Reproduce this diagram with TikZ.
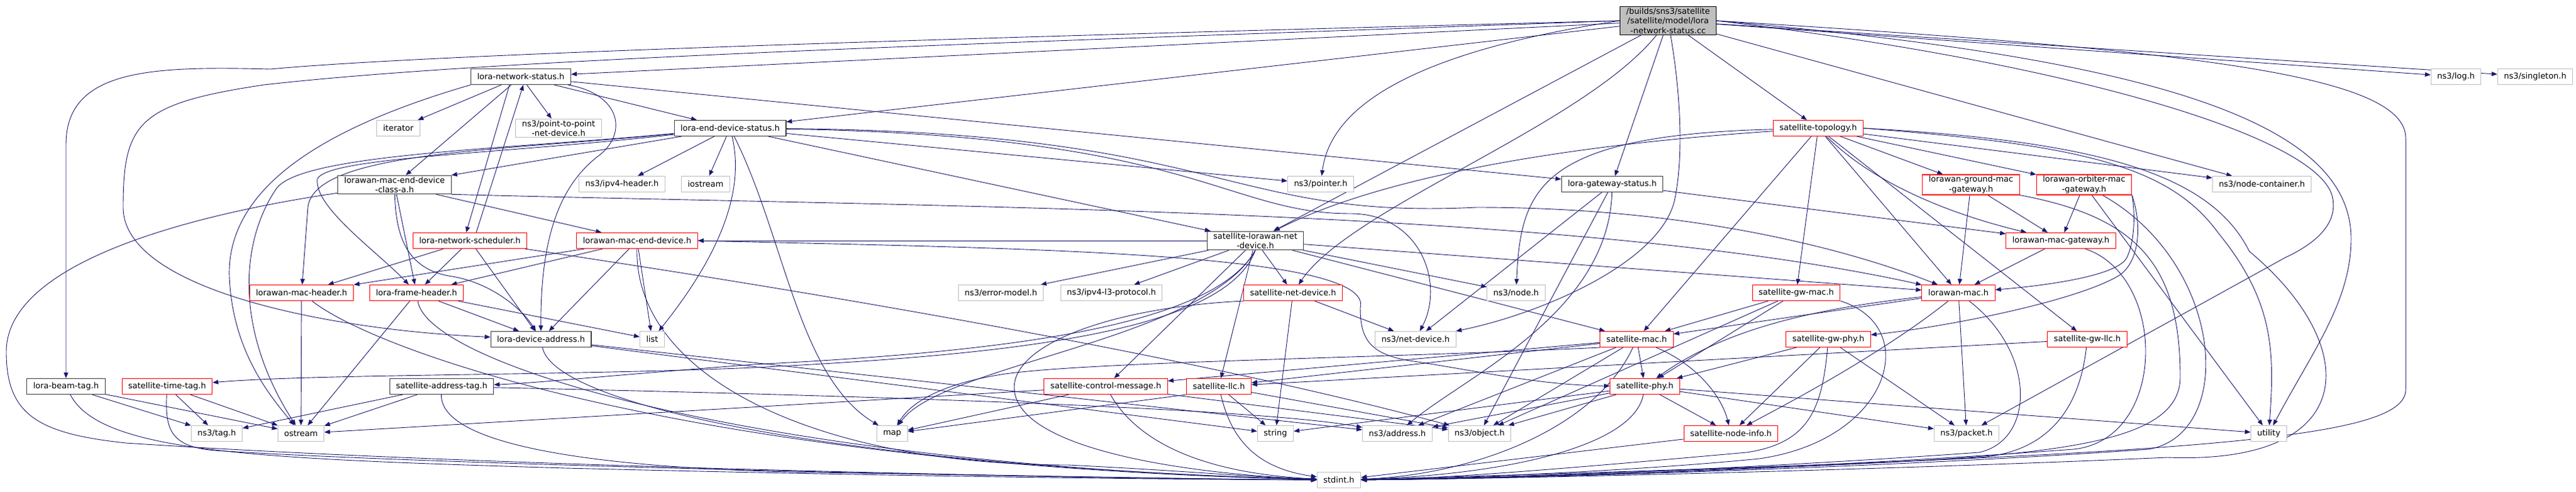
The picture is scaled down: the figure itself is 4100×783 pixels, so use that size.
\documentclass[tikz,border=0pt]{standalone}
\usepackage{fontspec}
\setmainfont{DejaVu Sans}
\usetikzlibrary{arrows.meta}
\definecolor{edgeblue}{RGB}{25,25,112}
\definecolor{boxgray}{RGB}{191,191,191}
\definecolor{boxred}{RGB}{255,0,0}
\definecolor{boxdark}{RGB}{64,64,64}
\pgfdeclarelayer{bg}
\pgfsetlayers{bg,main}

\begin{document}
\begin{tikzpicture}[x=1bp, y=-1bp,
        hdr/.style={draw=boxdark, line width=1.1bp, fill=white, align=center,
            minimum height=25bp, inner xsep=10bp, inner ysep=2bp,
            font=\fontsize{13}{15.5}\selectfont},
        trunc/.style={hdr, draw=boxred},
        sys/.style={hdr, draw=boxgray},
        srcfile/.style={hdr, draw=black, fill=boxgray},
        dep/.style={draw=edgeblue, line width=0.9bp,
            -{Triangle[length=9bp,width=7bp]}}]
    \useasboundingbox (0,0) rectangle (4100,783);

    % rank by rank, top to bottom
    \node[srcfile] (src) at (2655,33) {/builds/sns3/satellite\\/satellite/model/lora\\-network-status.cc};
    \node[hdr] (netstatus) at (829,122) {lora-network-status.h};
    \node[sys] (logh) at (3909,122) {ns3/log.h};
    \node[sys] (singleton) at (4035,122) {ns3/singleton.h};

    \node[sys] (iterator) at (634,204) {iterator};
    \node[sys] (ptp) at (889,204) {ns3/point-to-point\\-net-device.h};
    \node[hdr] (edstatus) at (1162,204) {lora-end-device-status.h};
    \node[trunc] (topology) at (2894,204) {satellite-topology.h};

    \node[hdr] (classa) at (628,294) {lorawan-mac-end-device\\-class-a.h};
    \node[sys] (ipvfour) at (990,293) {ns3/ipv4-header.h};
    \node[sys] (iostream) at (1123,293) {iostream};
    \node[sys] (pointer) at (2102,293) {ns3/pointer.h};
    \node[hdr] (gwstatus) at (2566,293) {lora-gateway-status.h};
    \node[trunc] (groundgw) at (3137,294) {lorawan-ground-mac\\-gateway.h};
    \node[trunc] (orbitergw) at (3317,294) {lorawan-orbiter-mac\\-gateway.h};
    \node[sys] (nodecont) at (3600,293) {ns3/node-container.h};

    \node[trunc] (scheduler) at (748,383) {lora-network-scheduler.h};
    \node[trunc] (macend) at (1014,383) {lorawan-mac-end-device.h};
    \node[hdr] (lorawandev) at (1998,383) {satellite-lorawan-net\\-device.h};
    \node[trunc] (macgw) at (3280,383) {lorawan-mac-gateway.h};

    \node[trunc] (machdr) at (480,466) {lorawan-mac-header.h};
    \node[trunc] (framehdr) at (663,466) {lora-frame-header.h};
    \node[sys] (errmodel) at (1593,466) {ns3/error-model.h};
    \node[sys] (ipvlthree) at (1769,466) {ns3/ipv4-l3-protocol.h};
    \node[trunc] (satnetdev) at (2058,466) {satellite-net-device.h};
    \node[sys] (nodeh) at (2413,466) {ns3/node.h};
    \node[trunc] (gwmac) at (2859,466) {satellite-gw-mac.h};
    \node[trunc] (lorawanmac) at (3117,466) {lorawan-mac.h};

    \node[hdr] (devaddr) at (861,540) {lora-device-address.h};
    \node[sys] (listh) at (1038,540) {list};
    \node[sys] (netdev) at (2253,540) {ns3/net-device.h};
    \node[trunc] (satmac) at (2605,540) {satellite-mac.h};
    \node[trunc] (gwphy) at (2910,540) {satellite-gw-phy.h};
    \node[trunc] (gwllc) at (3322,540) {satellite-gw-llc.h};

    \node[hdr] (beamtag) at (105,615) {lora-beam-tag.h};
    \node[trunc] (timetag) at (266,615) {satellite-time-tag.h};
    \node[hdr] (addrtag) at (703,615) {satellite-address-tag.h};
    \node[trunc] (ctrlmsg) at (1760,615) {satellite-control-message.h};
    \node[trunc] (satllc) at (1940,615) {satellite-llc.h};
    \node[trunc] (satphy) at (2618,615) {satellite-phy.h};

    \node[sys] (tagh) at (345,690) {ns3/tag.h};
    \node[sys] (ostream) at (479,690) {ostream};
    \node[sys] (maph) at (1420,690) {map};
    \node[sys] (stringh) at (2030,690) {string};
    \node[sys] (address) at (2224,690) {ns3/address.h};
    \node[sys] (object) at (2355,690) {ns3/object.h};
    \node[trunc] (nodeinfo) at (2755,690) {satellite-node-info.h};
    \node[sys] (packet) at (3130,690) {ns3/packet.h};
    \node[sys] (utility) at (3611,690) {utility};

    \node[sys] (stdint) at (2131,764) {stdint.h};

    \begin{pgfonlayer}{bg}
    % the .cc file
    \draw[dep] (src) -- (netstatus);
    \draw[dep] (src) -- (edstatus);
    \draw[dep] (src.west) .. controls (1600,58) and (700,85) .. (430,110) .. controls (240,105) and (105,110) .. (105,230) -- (beamtag);
    \draw[dep] (src.west) .. controls (1600,68) and (800,92) .. (420,135) .. controls (220,165) and (196,195) .. (196,330) .. controls (196,460) and (520,525) .. (devaddr);
    \draw[dep] (src) -- (topology);
    \draw[dep] (src) -- (logh);
    \draw[dep] (src) -- (singleton);
    \draw[dep] (src.west) .. controls (2300,75) and (2120,150) .. (pointer);
    \draw[dep] (src) -- (gwstatus);
    \draw[dep] (src) -- (lorawandev);
    \draw[dep] (src) .. controls (2520,200) and (2150,330) .. (satnetdev);
    \draw[dep] (src) .. controls (2675,150) and (2680,250) .. (2665,320) .. controls (2640,420) and (2450,500) .. (netdev);
    \draw[dep] (src) -- (nodecont);
    \draw[dep] (src.east) .. controls (3300,100) and (3700,220) .. (3713,317) .. controls (3720,360) and (3680,390) .. (3637,410) -- (packet);
    \draw[dep] (src.east) .. controls (3450,95) and (3742,200) .. (3742,380) .. controls (3742,480) and (3680,560) .. (utility);
    \draw[dep] (src.east) .. controls (3500,80) and (3829,120) .. (3829,220) -- (3829,620) .. controls (3829,700) and (3500,725) .. (stdint);

    % lora-network-status.h
    \draw[dep] (netstatus) -- (iterator);
    \draw[dep] (netstatus) -- (ptp);
    \draw[dep] (netstatus) -- (edstatus);
    \draw[dep] (netstatus) -- (classa);
    \draw[dep] ([xshift=-18bp]netstatus.south) -- ([xshift=-6bp]scheduler.north);
    \draw[dep] ([xshift=10bp]scheduler.north) -- ([xshift=4bp]netstatus.south);
    \draw[dep] (netstatus) -- (gwstatus);
    \draw[dep] (netstatus) .. controls (990,150) and (1000,215) .. (950,250) .. controls (900,290) and (860,360) .. (devaddr);
    \draw[dep] (netstatus.south west) .. controls (560,190) and (360,280) .. (365,440) .. controls (370,560) and (430,630) .. (ostream);

    % lora-end-device-status.h
    \draw[dep] (edstatus) -- (classa);
    \draw[dep] (edstatus) -- (ipvfour);
    \draw[dep] (edstatus) -- (iostream);
    \draw[dep] (edstatus) .. controls (1185,300) and (1150,400) .. (listh);
    \draw[dep] (edstatus) .. controls (1250,380) and (1270,600) .. (maph);
    \draw[dep] (edstatus) .. controls (800,240) and (500,240) .. (490,330) -- (machdr);
    \draw[dep] (edstatus) .. controls (800,245) and (520,250) .. (505,285) .. controls (500,330) and (600,400) .. (framehdr);
    \draw[dep] (edstatus) .. controls (800,238) and (480,245) .. (440,300) .. controls (385,380) and (370,520) .. (ostream);
    \draw[dep] (edstatus) -- (lorawandev);
    \draw[dep] (edstatus) -- (pointer);
    \draw[dep] (edstatus) .. controls (1900,215) and (1950,340) .. (2150,340) .. controls (2260,340) and (2300,450) .. (netdev);
    \draw[dep] (edstatus) .. controls (1950,210) and (1950,350) .. (2350,330) .. controls (2700,330) and (2950,400) .. (lorawanmac);

    % lorawan-mac-end-device-class-a.h
    \draw[dep] (classa) -- (macend);
    \draw[dep] (classa) -- (framehdr);
    \draw[dep] (classa) .. controls (630,380) and (650,430) .. (720,440) .. controls (780,450) and (830,490) .. (devaddr);
    \draw[dep] (classa) .. controls (380,330) and (10,400) .. (10,560) .. controls (10,660) and (60,690) .. (200,705) .. controls (800,745) and (1800,762) .. (stdint);
    \draw[dep] (classa.south east) .. controls (1500,330) and (2500,330) .. (lorawanmac);

    % lorawan-mac-end-device.h
    \draw[dep] (macend) -- (machdr);
    \draw[dep] (macend) -- (framehdr);
    \draw[dep] (macend) -- (devaddr);
    \draw[dep] (macend) -- (listh);
    \draw[dep] (macend.east) .. controls (1600,395) and (2190,400) .. (2165,490) .. controls (2165,540) and (2180,565) .. (2250,575) .. controls (2350,590) and (2450,613) .. (satphy);
    \draw[dep] (macend) .. controls (1010,600) and (1300,740) .. (1700,740) .. controls (1900,750) and (2000,760) .. (stdint);

    % lora-network-scheduler.h
    \draw[dep] (scheduler) -- (machdr);
    \draw[dep] (scheduler) -- (framehdr);
    \draw[dep] (scheduler) -- (devaddr);
    \draw[dep] (scheduler) .. controls (1400,480) and (1950,580) .. (object);

    % headers on the left
    \draw[dep] (machdr) -- (ostream);
    \draw[dep] (machdr) .. controls (600,560) and (1100,740) .. (stdint);
    \draw[dep] (framehdr) -- (ostream);
    \draw[dep] (framehdr) -- (devaddr);
    \draw[dep] (framehdr) -- (listh);
    \draw[dep] (framehdr) .. controls (680,580) and (1200,740) .. (stdint);
    \draw[dep] (devaddr) -- (stringh);
    \draw[dep] (devaddr) -- (address);
    \draw[dep] (devaddr) .. controls (880,640) and (1300,740) .. (stdint);
    \draw[dep] (beamtag) -- (tagh);
    \draw[dep] (beamtag) -- (ostream);
    \draw[dep] (beamtag) .. controls (160,720) and (400,730) .. (900,745) .. controls (1500,760) and (1900,763) .. (stdint);
    \draw[dep] (timetag) -- (tagh);
    \draw[dep] (timetag) -- (ostream);
    \draw[dep] (timetag) .. controls (262,690) and (275,715) .. (360,718) .. controls (700,740) and (1700,762) .. (stdint);
    \draw[dep] (addrtag) -- (tagh);
    \draw[dep] (addrtag) -- (ostream);
    \draw[dep] (addrtag) .. controls (1400,630) and (2000,650) .. (address);
    \draw[dep] (addrtag) .. controls (700,700) and (900,745) .. (1300,752) .. controls (1700,758) and (1950,763) .. (stdint);

    % satellite-lorawan-net-device.h
    \draw[dep] (lorawandev) -- (macend);
    \draw[dep] (lorawandev) -- (errmodel);
    \draw[dep] (lorawandev) -- (ipvlthree);
    \draw[dep] (lorawandev) -- (satnetdev);
    \draw[dep] (lorawandev) -- (ctrlmsg);
    \draw[dep] (lorawandev) -- (satllc);
    \draw[dep] (lorawandev.south) .. controls (1930,520) and (1600,560) .. (1200,580) .. controls (1000,595) and (850,610) .. (addrtag);
    \draw[dep] (lorawandev.south) .. controls (1950,530) and (1600,565) .. (1200,585) .. controls (900,598) and (500,595) .. (timetag);
    \draw[dep] (lorawandev.south) .. controls (1920,540) and (1500,580) .. (maph);
    \draw[dep] (lorawandev) -- (nodeh);
    \draw[dep] (lorawandev) -- (satmac);
    \draw[dep] (lorawandev) -- (lorawanmac);

    % satellite-net-device.h, control message, llc
    \draw[dep] (satnetdev) -- (netdev);
    \draw[dep] (satnetdev) -- (stringh);
    \draw[dep] (satnetdev.south west) .. controls (1750,490) and (1580,560) .. (1620,640) .. controls (1660,720) and (1900,755) .. (stdint);
    \draw[dep] (ctrlmsg) -- (maph);
    \draw[dep] (ctrlmsg) -- (ostream);
    \draw[dep] (ctrlmsg) -- (object);
    \draw[dep] (ctrlmsg) .. controls (1820,720) and (1950,755) .. (stdint);
    \draw[dep] (satllc.south west) -- (maph);
    \draw[dep] (satllc) -- (stringh);
    \draw[dep] (satllc) -- (object);
    \draw[dep] (satllc) .. controls (1960,700) and (2000,745) .. (stdint);

    % lora-gateway-status.h
    \draw[dep] (gwstatus) -- (macgw);
    \draw[dep] (gwstatus) -- (netdev);
    \draw[dep] (gwstatus) -- (object);
    \draw[dep] (gwstatus) .. controls (2560,500) and (2330,600) .. (address);

    % satellite-topology.h
    \draw[dep] (topology) -- (nodecont);
    \draw[dep] (topology) .. controls (2980,290) and (3100,340) .. (macgw);
    \draw[dep] (topology) -- (groundgw);
    \draw[dep] (topology) -- (orbitergw);
    \draw[dep] (topology) -- (gwmac);
    \draw[dep] (topology) -- (gwllc);
    \draw[dep] (topology) .. controls (2500,230) and (2200,280) .. (lorawandev);
    \draw[dep] (topology) .. controls (2450,215) and (2420,300) .. (nodeh);
    \draw[dep] (topology) -- (satmac);
    \draw[dep] (topology) -- (lorawanmac);
    \draw[dep] (topology.east) .. controls (3300,230) and (3450,260) .. (3530,370) .. controls (3620,480) and (3620,560) .. (utility);
    \draw[dep] (topology.east) .. controls (3350,225) and (3520,280) .. (3580,400) .. controls (3760,550) and (3760,740) .. (3450,728) .. controls (3000,748) and (2400,762) .. (stdint);

    % gateways
    \draw[dep] (groundgw) -- (macgw);
    \draw[dep] (groundgw) -- (lorawanmac);
    \draw[dep] (groundgw.south east) .. controls (3400,345) and (3470,420) .. (3470,600) .. controls (3470,700) and (3300,725) .. (2900,740) .. controls (2500,755) and (2300,762) .. (stdint);
    \draw[dep] (orbitergw) -- (macgw);
    \draw[dep] (orbitergw.south east) .. controls (3400,350) and (3395,390) .. (3385,410) .. controls (3370,440) and (3250,455) .. (lorawanmac);
    \draw[dep] (orbitergw.south east) .. controls (3410,360) and (3405,420) .. (3370,440) .. controls (3300,480) and (3100,520) .. (gwphy);
    \draw[dep] (orbitergw) -- (utility);
    \draw[dep] (orbitergw) .. controls (3540,420) and (3560,690) .. (3420,715) .. controls (3000,745) and (2400,762) .. (stdint);
    \draw[dep] (macgw) -- (lorawanmac);
    \draw[dep] (macgw) .. controls (3450,440) and (3450,700) .. (3300,715) .. controls (2900,745) and (2400,762) .. (stdint);

    % gw mac, lorawan mac, gw phy, gw llc
    \draw[dep] (gwmac) -- (satmac);
    \draw[dep] (gwmac) -- (satphy);
    \draw[dep] (gwmac) -- (object);
    \draw[dep] (gwmac.south east) .. controls (3060,520) and (3010,700) .. (2800,730) .. controls (2600,750) and (2300,762) .. (stdint);
    \draw[dep] (lorawanmac) -- (satmac);
    \draw[dep] (lorawanmac) .. controls (2900,490) and (2750,520) .. (satphy);
    \draw[dep] (lorawanmac) -- (packet);
    \draw[dep] (lorawanmac) .. controls (3000,560) and (2850,640) .. (nodeinfo);
    \draw[dep] (lorawanmac) .. controls (3240,560) and (3240,700) .. (3150,720) .. controls (2800,745) and (2400,762) .. (stdint);
    \draw[dep] (gwphy) -- (satphy);
    \draw[dep] (gwphy) -- (packet);
    \draw[dep] (gwphy) -- (nodeinfo);
    \draw[dep] (gwphy) .. controls (2900,650) and (2880,705) .. (2780,720) .. controls (2500,745) and (2300,762) .. (stdint);
    \draw[dep] (gwllc) -- (satllc);
    \draw[dep] (gwllc) .. controls (3310,650) and (3260,720) .. (3150,728) .. controls (2800,748) and (2400,762) .. (stdint);

    % satellite-mac.h and satellite-phy.h
    \draw[dep] (satmac) -- (satphy);
    \draw[dep] (satmac) .. controls (2700,580) and (2740,630) .. (nodeinfo);
    \draw[dep] (satmac) -- (ctrlmsg);
    \draw[dep] (satmac) -- (satllc);
    \draw[dep] (satmac) -- (address);
    \draw[dep] (satmac) -- (object);
    \draw[dep] (satmac.south west) .. controls (2200,570) and (1750,575) .. (1600,595) .. controls (1500,610) and (1450,640) .. (maph);
    \draw[dep] (satmac) .. controls (2540,680) and (2350,755) .. (stdint);
    \draw[dep] (satphy) -- (nodeinfo);
    \draw[dep] (satphy) -- (object);
    \draw[dep] (satphy) -- (address);
    \draw[dep] (satphy) -- (stringh);
    \draw[dep] (satphy) -- (packet);
    \draw[dep] (satphy) -- (utility);
    \draw[dep] (satphy) .. controls (2600,710) and (2400,755) .. (stdint);
    \draw[dep] (nodeinfo) -- (stdint);
    \end{pgfonlayer}
\end{tikzpicture}
\end{document}
